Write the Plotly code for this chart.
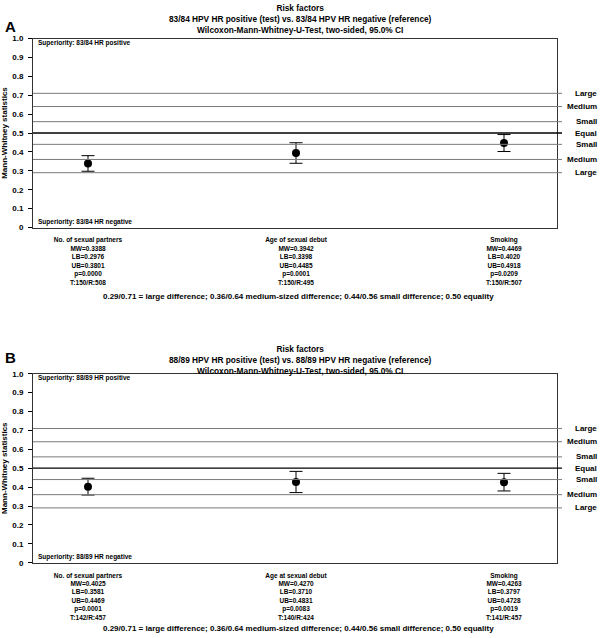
import plotly.graph_objects as go

# ---------------- data ----------------
categories_a = ["No. of sexual partners", "Age of sexual debut", "Smoking"]
mw_a = [0.3388, 0.3942, 0.4469]
lb_a = [0.2976, 0.3398, 0.4020]
ub_a = [0.3801, 0.4485, 0.4918]
p_a = ["0.0000", "0.0001", "0.0209"]
t_a = [150, 150, 150]
r_a = [508, 495, 507]

categories_b = ["No. of sexual partners", "Age at sexual debut", "Smoking"]
mw_b = [0.4025, 0.4270, 0.4263]
lb_b = [0.3581, 0.3710, 0.3797]
ub_b = [0.4469, 0.4831, 0.4728]
p_b = ["0.0001", "0.0083", "0.0019"]
t_b = [142, 140, 141]
r_b = [457, 424, 457]

thresholds = [0.71, 0.64, 0.56, 0.50, 0.44, 0.36, 0.29]
threshold_labels = ["Large", "Medium", "Small", "Equal", "Small", "Medium", "Large"]

y_tickvals = [0, 0.1, 0.2, 0.3, 0.4, 0.5, 0.6, 0.7, 0.8, 0.9, 1.0]
y_ticktext = ["0", "0.1", "0.2", "0.3", "0.4", "0.5", "0.6", "0.7", "0.8", "0.9", "1.0"]

title_a = ["Risk factors",
           "83/84 HPV HR positive (test) vs. 83/84 HPV HR negative (reference)",
           "Wilcoxon-Mann-Whitney-U-Test, two-sided, 95.0% CI"]
title_b = ["Risk factors",
           "88/89 HPV HR positive (test) vs. 88/89 HPV HR negative (reference)",
           "Wilcoxon-Mann-Whitney-U-Test, two-sided, 95.0% CI"]
sup_a = ["Superiority: 83/84 HR positive", "Superiority: 83/84 HR negative"]
sup_b = ["Superiority: 88/89 HR positive", "Superiority: 88/89 HR negative"]
footer = "0.29/0.71 = large difference; 0.36/0.64 medium-sized difference; 0.44/0.56 small difference; 0.50 equality"

# ---------------- layout helpers ----------------
W, H = 600, 638
FONT = "Liberation Sans, Arial, sans-serif"

def py(px):
    return 1 - px / H

def pxx(px):
    return px / W

X_DOM = [pxx(33), pxx(557)]
A_DOM = [py(226.7), py(35.0)]
B_DOM = [py(566.7), py(375.0)]
X_RANGE = [-0.2644, 2.2548]

def ticktext(cats, mw, lb, ub, p, t, r):
    return [f"<b>{c}<br>MW={m:.4f}<br>LB={l:.4f}<br>UB={u:.4f}<br>p={pp}<br>T:{tt}/R:{rr}</b>"
            for c, m, l, u, pp, tt, rr in zip(cats, mw, lb, ub, p, t, r)]

fig = go.Figure()

def add_panel(cats, mw, lb, ub, xa, ya):
    fig.add_trace(go.Scatter(
        x=cats, y=mw, mode="markers",
        marker=dict(color="black", size=8),
        error_y=dict(type="data", symmetric=False,
                     array=[u - m for u, m in zip(ub, mw)],
                     arrayminus=[m - l for m, l in zip(mw, lb)],
                     color="black", thickness=1, width=6.5),
        xaxis=xa, yaxis=ya, showlegend=False, hoverinfo="skip"))

add_panel(categories_a, mw_a, lb_a, ub_a, "x", "y")
add_panel(categories_b, mw_b, lb_b, ub_b, "x2", "y2")

xcommon = dict(domain=X_DOM, range=X_RANGE, showgrid=False, zeroline=False,
               showline=True, mirror=True, linecolor="#333", linewidth=1,
               ticks="", ticklabelstandoff=6,
               tickfont=dict(family=FONT, size=6.5, color="black"))
ycommon = dict(range=[0, 1], showgrid=False, zeroline=False,
               showline=True, mirror=True, linecolor="#333", linewidth=1,
               ticks="outside", ticklen=4, tickcolor="black", ticklabelstandoff=3,
               tickvals=y_tickvals, ticktext=[f"<b>{t}</b>" for t in y_ticktext],
               tickfont=dict(family=FONT, size=8, color="black"),
               title=dict(text="<b>Mann-Whitney statistics</b>",
                          font=dict(family=FONT, size=8, color="black"), standoff=5))

fig.update_layout(
    width=W, height=H, margin=dict(l=0, r=0, t=0, b=0),
    paper_bgcolor="white", plot_bgcolor="white",
    xaxis=dict(xcommon, anchor="y", type="category",
               tickvals=categories_a, ticktext=ticktext(categories_a, mw_a, lb_a, ub_a, p_a, t_a, r_a)),
    yaxis=dict(ycommon, domain=A_DOM, anchor="x"),
    xaxis2=dict(xcommon, anchor="y2", type="category",
                tickvals=categories_b, ticktext=ticktext(categories_b, mw_b, lb_b, ub_b, p_b, t_b, r_b)),
    yaxis2=dict(ycommon, domain=B_DOM, anchor="x2"),
)

shapes = []
annotations = []

def panel_decor(yref, title_lines, sup, letter, title_top_px, title_shift, letter_px, footer_px):
    for v, lab in zip(thresholds, threshold_labels):
        shapes.append(dict(type="line", xref="paper", yref=yref, x0=X_DOM[0], x1=pxx(562),
                           y0=v, y1=v,
                           line=dict(color="black" if v == 0.5 else "#7a7a7a",
                                     width=1.3 if v == 0.5 else 1)))
        annotations.append(dict(xref="paper", yref=yref, x=pxx(599), y=v, xanchor="right",
                                yanchor="middle", showarrow=False, text=f"<b>{lab}</b>",
                                font=dict(family=FONT, size=8, color="black")))
    annotations.append(dict(xref="paper", yref="paper", x=0.5, y=py(title_top_px),
                            xanchor="center", yanchor="top", showarrow=False, yshift=title_shift,
                            text="<b>" + "<br>".join(title_lines) + "</b>",
                            font=dict(family=FONT, size=8.3, color="black")))
    annotations.append(dict(xref="paper", yref="paper", x=pxx(3), y=py(letter_px),
                            xanchor="left", yanchor="middle", showarrow=False,
                            text=f"<b>{letter}</b>",
                            font=dict(family=FONT, size=15, color="black")))
    annotations.append(dict(xref="paper", yref=yref, x=pxx(36), y=0.975, xanchor="left",
                            yanchor="middle", showarrow=False, text=f"<b>{sup[0]}</b>",
                            font=dict(family=FONT, size=6.5, color="black")))
    annotations.append(dict(xref="paper", yref=yref, x=pxx(36), y=0.03, xanchor="left",
                            yanchor="middle", showarrow=False, text=f"<b>{sup[1]}</b>",
                            font=dict(family=FONT, size=6.5, color="black")))
    annotations.append(dict(xref="paper", yref="paper", x=0.497, y=py(footer_px),
                            xanchor="center", yanchor="middle", showarrow=False,
                            text=f"<b>{footer}</b>",
                            font=dict(family=FONT, size=8, color="black")))

panel_decor("y", title_a, sup_a, "A", 0, 3, 23, 297)
panel_decor("y2", title_b, sup_b, "B", 343, 0, 359, 633.5)

fig.update_layout(shapes=shapes, annotations=annotations)
fig.write_html("out.html", config={"displayModeBar": False},
               post_script="document.body.style.margin='0';document.body.style.overflow='hidden';")
